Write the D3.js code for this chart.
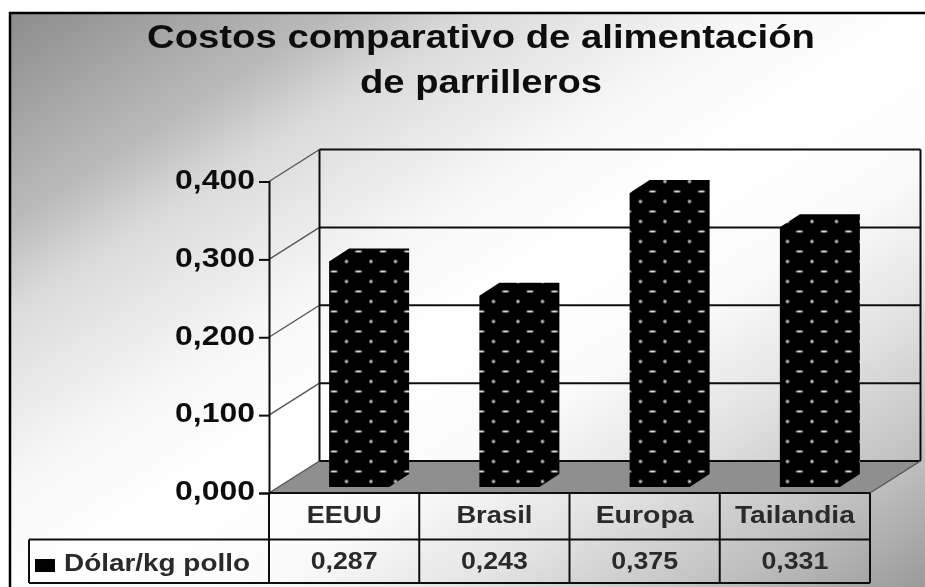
<!DOCTYPE html>
<html><head><meta charset="utf-8">
<script src="https://cdn.jsdelivr.net/npm/d3@7"></script>
<style>html,body{margin:0;padding:0;background:#fff}svg{display:block}text{font-family:"Liberation Sans",Arial,sans-serif;font-weight:bold}</style>
</head><body><svg id="c" width="925" height="587"></svg>
<script>
const titleLines = ["Costos comparativo de alimentación","de parrilleros"];
const categories = ["EEUU","Brasil","Europa","Tailandia"];
const values = [0.287,0.243,0.375,0.331];
const seriesName = "Dólar/kg pollo";
const tickValues = [0,0.1,0.2,0.3,0.4];
const valueFormat = d => d3.format(".3f")(d).replace(".",",");

const svg = d3.select("#c");
const defs = svg.append("defs");
const grad = defs.append("linearGradient").attr("id","bg").attr("x1",0).attr("y1",0).attr("x2",1).attr("y2",1);
[[0,"#8c8c8c"],[0.18,"#bbbbbb"],[0.25,"#dadada"],[0.4,"#f7f7f7"],[0.5,"#ffffff"],[0.62,"#fbfbfb"],[0.73,"#e4e4e4"],[0.87,"#bebebe"],[1,"#939393"]]
  .forEach(s=>grad.append("stop").attr("offset",s[0]).attr("stop-color",s[1]));
const soft = defs.append("filter").attr("id","soft").attr("filterUnits","userSpaceOnUse")
  .attr("x",0).attr("y",0).attr("width",925).attr("height",587);
soft.append("feGaussianBlur").attr("stdDeviation",0.45);
const pat = defs.append("pattern").attr("id","dots").attr("patternUnits","userSpaceOnUse").attr("width",24.5).attr("height",20).attr("x",9.5).attr("y",11.5);
pat.append("rect").attr("width",24.5).attr("height",20).attr("fill","#000");
pat.append("ellipse").attr("cx",6).attr("cy",0).attr("rx",3.5).attr("ry",0.9).attr("fill","#e8e8e8");
pat.append("ellipse").attr("cx",6).attr("cy",20).attr("rx",3.5).attr("ry",0.9).attr("fill","#e8e8e8");
pat.append("ellipse").attr("cx",18.5).attr("cy",10).attr("rx",1.8).attr("ry",1.8).attr("fill","#bbb");

const root = svg.append("g").attr("filter","url(#soft)");
root.append("rect").attr("x",10).attr("y",13).attr("width",930).attr("height",590)
  .attr("fill","url(#bg)").attr("stroke","#000").attr("stroke-width",2.5);

function label(str,x,y,size,len,fill){
  return root.append("text").attr("x",x).attr("y",y).attr("text-anchor","middle")
    .attr("font-size",size).attr("fill",fill||"#111")
    .attr("textLength",len).attr("lengthAdjust","spacingAndGlyphs").text(str);
}
label(titleLines[0],481,48,33,668);
label(titleLines[1],481,93,33,242);

const depthX = 50.5, depthY = -32;
const x = d3.scaleBand().domain(categories).range([269,870]);
const y = d3.scaleLinear().domain([0,0.4]).range([493,181.5]);
const x0 = x.range()[0], x1 = x.range()[1], y0 = y(0), yTop = y(0.4);
const ink = "#111";

// floor
root.append("polygon").attr("fill","#8f8f8f")
  .attr("points",[[x0,y0],[x0+depthX,y0+depthY],[x1+depthX,y0+depthY],[x1,y0]].join(" "));

// walls
const wall = root.append("g").attr("fill","none").attr("stroke",ink);
tickValues.forEach(t=>{
  wall.append("line").attr("x1",x0).attr("y1",y(t)).attr("x2",x0+depthX).attr("y2",y(t)+depthY).attr("stroke","#555").attr("stroke-width",1.4);
  wall.append("line").attr("x1",x0+depthX).attr("y1",y(t)+depthY).attr("x2",x1+depthX).attr("y2",y(t)+depthY).attr("stroke-width",2);
});
wall.append("line").attr("x1",x0+depthX).attr("y1",yTop+depthY).attr("x2",x0+depthX).attr("y2",y0+depthY).attr("stroke-width",2);
wall.append("line").attr("x1",x1+depthX).attr("y1",yTop+depthY).attr("x2",x1+depthX).attr("y2",y0+depthY).attr("stroke-width",2);
wall.append("line").attr("x1",x1+depthX).attr("y1",y0+depthY).attr("x2",x1).attr("y2",y0).attr("stroke","#555").attr("stroke-width",1.4);

// axis
const axis = root.append("g").attr("transform",`translate(${x0},0)`)
  .call(d3.axisLeft(y).tickValues(tickValues).tickSize(10).tickPadding(4).tickFormat(valueFormat));
axis.selectAll("path,line").attr("stroke",ink).attr("stroke-width",2);
axis.selectAll("text").attr("font-size",27).attr("fill","#111").attr("dy","0.25em")
  .attr("textLength",80).attr("lengthAdjust","spacingAndGlyphs");

// bars
const barW = 60, barDX = 20, barDY = -13, barShift = 15;
const bars = root.append("g").selectAll("g").data(categories).join("g");
bars.each(function(c,i){
  const g = d3.select(this);
  const left = x(c)+x.bandwidth()/2-barW/2+barShift, right = left+barW;
  const top = y(values[i])-8, bottom = y0-6;
  g.append("polygon").attr("fill","url(#dots)")
    .attr("points",[[left,bottom],[left,top],[left+barDX,top+barDY],[right+barDX,top+barDY],[right+barDX,bottom+barDY],[right,bottom]].join(" "));
});

// data table
const rowA = y0, rowB = 539.5, rowC = 583, legendX = 29;
const table = root.append("g").attr("fill","none").attr("stroke",ink).attr("stroke-width",2);
table.append("line").attr("x1",x0).attr("x2",x1).attr("y1",rowA).attr("y2",rowA);
table.append("line").attr("x1",legendX).attr("x2",x1).attr("y1",rowB).attr("y2",rowB);
table.append("line").attr("x1",legendX).attr("x2",x1).attr("y1",rowC).attr("y2",rowC);
table.append("line").attr("x1",legendX).attr("x2",legendX).attr("y1",rowB).attr("y2",rowC);
categories.concat([null]).forEach(c=>{
  const xx = c===null ? x1 : x(c);
  table.append("line").attr("x1",xx).attr("x2",xx).attr("y1",rowA).attr("y2",rowC);
});
const catWidths = [75,76,98,120], valWidth = 67;
categories.forEach((c,i)=>{
  const cx = x(c)+x.bandwidth()/2;
  label(c,cx,523,23,catWidths[i],"#2a2a2a");
  label(valueFormat(values[i]),cx,568.5,23,valWidth,"#2a2a2a");
});
root.append("rect").attr("x",35).attr("y",559).attr("width",20).attr("height",13).attr("fill","#000");
label(seriesName,157,571,24,186,"#2a2a2a");
</script></body></html>
